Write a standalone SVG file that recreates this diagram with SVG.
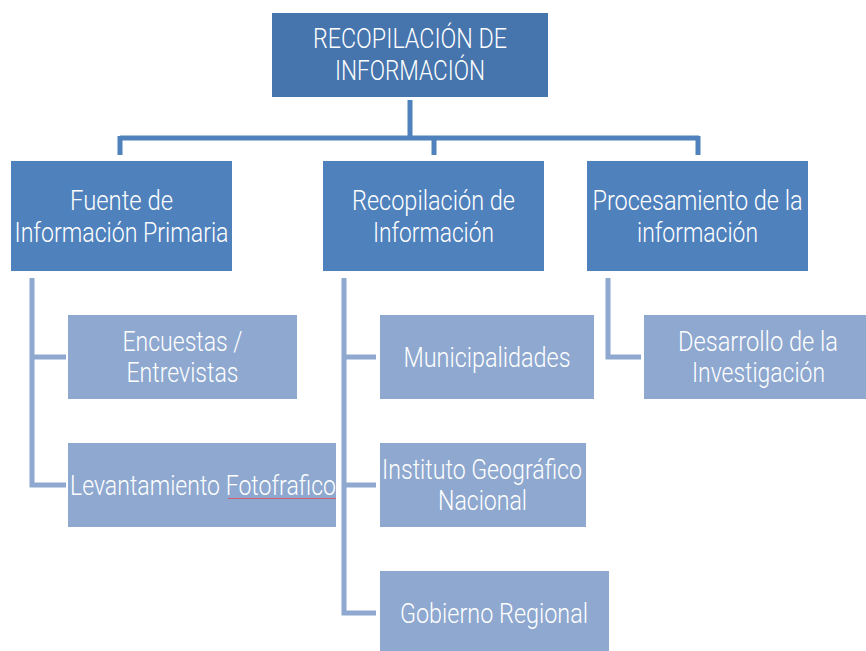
<svg xmlns="http://www.w3.org/2000/svg" width="866" height="651" viewBox="0 0 866 651">
<style>
text{font-family:Roboto,"Liberation Sans",sans-serif;font-weight:300;fill:#ffffff;text-anchor:middle;font-size:28px}
.top{fill:#4674ad}
.l1{fill:#4f81bd}
.l2{fill:#8ea8cf}
.c1{stroke:#4f81bd;stroke-width:5;fill:none}
.c2{stroke:#8ea8cf;stroke-width:5;fill:none}
</style>
<rect width="866" height="651" fill="#ffffff"/>
<g id="connectors">
<path class="c1" d="M410,100V138M120,138H699M120,136V155M434,136V155M698,136V155"/>
<path class="c2" d="M32,278V485H66M32,357H66"/>
<path class="c2" d="M344,278V613H376M344,357H376M344,485H376"/>
<path class="c2" d="M608,278V357H641"/>
</g>
<g id="root">
<rect class="top" x="272" y="13" width="276" height="84"/>
<text x="410" y="48" font-size="25" textLength="194" lengthAdjust="spacingAndGlyphs">RECOPILACIÓN DE</text>
<text x="410" y="80" font-size="25" textLength="150" lengthAdjust="spacingAndGlyphs">INFORMACIÓN</text>
</g>
<g id="fuente">
<rect class="l1" x="11" y="161" width="221" height="110"/>
<text x="121.5" y="210" textLength="103" lengthAdjust="spacingAndGlyphs">Fuente de</text>
<text x="121.5" y="242" textLength="214" lengthAdjust="spacingAndGlyphs">Información Primaria</text>
</g>
<g id="recopilacion">
<rect class="l1" x="323" y="161" width="221" height="110"/>
<text x="433.5" y="210" textLength="163" lengthAdjust="spacingAndGlyphs">Recopilación de</text>
<text x="433.5" y="242" textLength="121" lengthAdjust="spacingAndGlyphs">Información</text>
</g>
<g id="procesamiento">
<rect class="l1" x="587" y="161" width="221" height="110"/>
<text x="697.5" y="210" textLength="210" lengthAdjust="spacingAndGlyphs">Procesamiento de la</text>
<text x="697.5" y="242" textLength="121" lengthAdjust="spacingAndGlyphs">información</text>
</g>
<g id="encuestas">
<rect class="l2" x="68" y="315" width="229" height="84"/>
<text x="182.5" y="351" textLength="120" lengthAdjust="spacingAndGlyphs">Encuestas /</text>
<text x="182.5" y="382" textLength="112" lengthAdjust="spacingAndGlyphs">Entrevistas</text>
</g>
<g id="levantamiento">
<rect class="l2" x="68" y="443" width="268" height="84"/>
<text x="203" y="495" textLength="266" lengthAdjust="spacingAndGlyphs">Levantamiento Fotofrafico</text>
<line x1="228" y1="498.5" x2="336" y2="498.5" stroke="#d0606e" stroke-width="1"/>
</g>
<g id="municipalidades">
<rect class="l2" x="380" y="315" width="214" height="84"/>
<text x="487" y="367" textLength="167" lengthAdjust="spacingAndGlyphs">Municipalidades</text>
</g>
<g id="instituto">
<rect class="l2" x="380" y="443" width="206" height="84"/>
<text x="482" y="479" textLength="200" lengthAdjust="spacingAndGlyphs">Instituto Geográfico</text>
<text x="482.5" y="510" textLength="89" lengthAdjust="spacingAndGlyphs">Nacional</text>
</g>
<g id="gobierno">
<rect class="l2" x="380" y="571" width="229" height="84"/>
<text x="494" y="623" textLength="188" lengthAdjust="spacingAndGlyphs">Gobierno Regional</text>
</g>
<g id="desarrollo">
<rect class="l2" x="644" y="315" width="222" height="84"/>
<text x="758" y="351" textLength="160" lengthAdjust="spacingAndGlyphs">Desarrollo de la</text>
<text x="758.5" y="382" textLength="133" lengthAdjust="spacingAndGlyphs">Investigación</text>
</g>
</svg>
